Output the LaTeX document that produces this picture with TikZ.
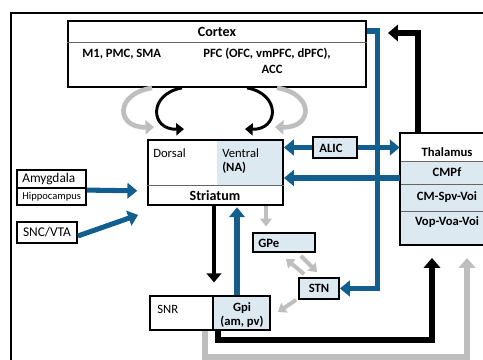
\documentclass[tikz,border=0pt]{standalone}
\usepackage{fontspec}
\setmainfont{Carlito}
\usetikzlibrary{arrows.meta}
\usetikzlibrary{calc}
\usetikzlibrary{fit}
\definecolor{pathblue}{RGB}{18,94,142}
\definecolor{paleblue}{RGB}{221,233,241}
\definecolor{pathgrey}{RGB}{190,190,190}
\tikzset{box/.style = {draw, line width=1.3pt, inner sep=0pt},
         shadebox/.style = {box, fill=paleblue},
         divider/.style = {line width=0.5pt, black!60},
         lbl/.style = {font=\bfseries\fontsize{9}{10}\selectfont, inner sep=0pt},
         biglbl/.style = {font=\bfseries\fontsize{10}{11}\selectfont, inner sep=0pt},
         txt/.style = {font=\fontsize{9}{10}\selectfont, inner sep=0pt},
         bluearr/.style = {pathblue, line width=3.6pt,
                           -{Triangle[width=11pt,length=7pt]}},
         greyarr/.style = {pathgrey, line width=2.8pt,
                           -{Triangle[width=8pt,length=5.5pt]}},
         blackarr/.style = {line width=3.4pt,
                            -{Triangle[width=10.5pt,length=6.5pt]}},
         loopblack/.style = {line width=2.1pt,
                             -{Triangle[width=8.5pt,length=5.5pt]}},
         loopgrey/.style = {pathgrey, line width=3.3pt,
                            -{Triangle[width=10pt,length=6pt]}},
         routeblack/.style = {line width=4.4pt,
                              -{Triangle[width=11.5pt,length=7pt]}},
         routegrey/.style = {pathgrey, line width=4.4pt,
                             -{Triangle[width=11.5pt,length=7pt]}}}

\begin{document}
\begin{tikzpicture}[x=0.025cm, y=-0.025cm]
  \useasboundingbox (0,0) rectangle (483,360);
  \draw [line width=1.4pt] (11,365) -- (11,13) -- (490,13);

  % cortex
  \node [box, fit={(68,21) (366,87)}] (cortex) {};
  \draw [divider] (cortex.west |- 0,42) -- (cortex.east |- 0,42);
  \node [biglbl] (cortexlbl) at (217,32) {Cortex};
  \node [lbl, anchor=west] (motor) at (82,54) {M1, PMC, SMA};
  \node [lbl, anchor=west] (pfc) at (203,54) {PFC (OFC, vmPFC, dPFC),};
  \node [lbl] (acc) at (272,69) {ACC};

  % striatum
  \node [fill=paleblue, inner sep=0pt, fit={(217,140) (283,185)}] (ventral) {};
  \node [box, fit={(148,140) (283,205)}] (striatum) {};
  \draw [divider] (striatum.west |- 0,185) -- (striatum.east |- 0,185);
  \node [txt, anchor=west] (dorsal) at (153,153) {Dorsal};
  \node [txt, anchor=west] (ventlbl) at (222,153) {Ventral};
  \node [lbl, anchor=west] (na) at (222,168) {(NA)};
  \node [biglbl] (striatlbl) at (215,196) {Striatum};

  % inputs on the left
  \node [box, fit={(17,170) (86,188)}] (amyg) {};
  \node [box, fit={(17,188) (86,205)}] (hippo) {};
  \node [font=\fontsize{9.5}{10}\selectfont, inner sep=0pt, anchor=west]
        (amyglbl) at (22,179) {Amygdala};
  \node [font=\fontsize{7.5}{8}\selectfont, inner sep=0pt, anchor=west]
        (hippolbl) at (22,197) {Hippocampus};
  \node [box, fit={(17,222) (77,243)}] (snc) {};
  \node [font=\fontsize{9.5}{10}\selectfont, inner sep=0pt]
        (snclbl) at (snc) {SNC/VTA};

  % ALIC
  \node [shadebox, fit={(313,137) (357,158)}] (alic) {};
  \node [lbl] (aliclbl) at (331,148) {ALIC};

  % thalamus
  \node [inner sep=0pt, fit={(400,133) (500,162)}] (thal) {};
  \node [fill=paleblue, inner sep=0pt, fit={(400,162) (500,185)}] (cmpf) {};
  \node [fill=paleblue, inner sep=0pt, fit={(400,185) (500,212)}] (cmspv) {};
  \node [fill=paleblue, inner sep=0pt, fit={(400,212) (500,245)}] (vop) {};
  \foreach \row in {cmpf,cmspv,vop} {
    \draw [divider] (\row.north west) -- (\row.north east);
  }
  \node [box, fit={(thal.north west) (vop.south east)}] (thalamus) {};
  \node [lbl] (thallbl) at (447,152) {Thalamus};
  \node [lbl] (cmpflbl) at (447,172) {CMPf};
  \node [lbl] (cmspvlbl) at (447,197) {CM-Spv-Voi};
  \node [lbl] (voplbl) at (447,222) {Vop-Voa-Voi};

  % pallidum, STN, SNR
  \node [shadebox, fit={(253,233) (315,252)}] (gpe) {};
  \node [lbl, anchor=west] (gpelbl) at (258,243) {GPe};
  \node [shadebox, fit={(299,278) (339,299)}] (stn) {};
  \node [lbl] (stnlbl) at (stn) {STN};
  \node [box, fit={(150,296) (213,330)}] (snr) {};
  \node [shadebox, fit={(213,296) (270,330)}] (gpi) {};
  \node [txt, anchor=west] (snrlbl) at (157,309) {SNR};
  \node [lbl] (gpilbl) at (242,308) {Gpi};
  \node [lbl] (gpisub) at (242,322) {(am, pv)};

  % cortex <-> striatum loops
  \draw [loopgrey] (152,0 |- cortex.south)
        .. controls (114,94) and (116,128) .. ($(154,0 |- striatum.north)+(0,-12)$);
  \draw [loopblack] (182,0 |- cortex.south)
        .. controls (148,94) and (150,130) .. ($(184,0 |- striatum.north)+(0,-10)$);
  \draw [loopblack] (247,0 |- cortex.south)
        .. controls (281,94) and (279,130) .. ($(245,0 |- striatum.north)+(0,-10)$);
  \draw [loopgrey] (277,0 |- cortex.south)
        .. controls (315,94) and (313,128) .. ($(275,0 |- striatum.north)+(0,-12)$);

  % blue connectors
  \draw [bluearr, shorten >=7pt] ($(hippo.north east)+(0,3)$)
        -- (striatum.west |- 0,191);
  \draw [bluearr] (snc.east |- 0,236) -- ($(striatum.south west)+(-9,9)$);
  \draw [bluearr] (alic.west) -- (striatum.east |- alic.west);
  \draw [bluearr] (alic.east) -- (thal.west |- alic.east);
  \draw [bluearr] (cmpf.west |- 0,178) -- (striatum.east |- 0,178);
  \draw [bluearr] (cortex.east |- 0,31) -| ($(stn.east)+(38,0)$) -- (stn.east);
  \draw [bluearr, shorten >=1pt] (237,0 |- gpi.north) -- (237,0 |- striatum.south);

  % striatum -> SNR, striatum -> GPe
  \draw [blackarr, shorten >=9pt] (214,0 |- striatum.south) -- (214,0 |- snr.north);
  \draw [greyarr, shorten >=4pt] (266,0 |- striatum.south) -- (266,0 |- gpe.north);

  % GPe <-> STN, STN -> Gpi
  \draw [greyarr] ($(gpe.south east)+(-15,3)$) -- ($(stn.north west)+(19,-5)$);
  \draw [greyarr] ($(stn.north west)+(6,-3)$) -- ($(gpe.south east)+(-30,6)$);
  \draw [greyarr] ($(stn.south west)+(-2,0)$) -- ($(gpi.east)+(7,-1)$);

  % routes back to thalamus and cortex
  \draw [routeblack, shorten >=9pt] (218,0 |- gpi.south) |- (432,340)
        -- (432,0 |- vop.south);
  \draw [routegrey, shorten >=9pt] (205,0 |- snr.south) |- (467,357)
        -- (467,0 |- vop.south);
  \draw [routeblack, shorten >=15pt] (418,0 |- thal.north) |- (cortex.east |- 0,33);
\end{tikzpicture}
\end{document}
